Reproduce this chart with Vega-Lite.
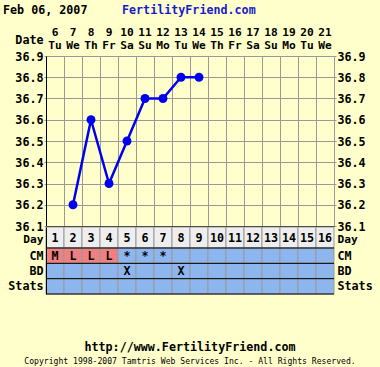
{
  "$schema": "https://vega.github.io/schema/vega-lite/v6.json",
  "width": 288,
  "height": 170,
  "autosize": {"type": "none"},
  "padding": {"left": 46, "right": 46, "top": 56, "bottom": 141},
  "background": "#FFFFCC",
  "config": {
    "view": {"stroke": null, "fill": "#FFFFCC"},
    "font": "DejaVu Sans Mono",
    "axis": {"labelFont": "DejaVu Sans Mono", "labelFontWeight": "bold", "labelFontSize": 11.7, "labelColor": "#000000"},
    "text": {"font": "DejaVu Sans Mono", "fontWeight": "bold", "fontSize": 11.7, "color": "#000000"}
  },
  "datasets": {
    "days": [
      {"day": 1, "date": "6", "wd": "Tu", "temp": null, "CM": "M", "BD": "", "Stats": ""},
      {"day": 2, "date": "7", "wd": "We", "temp": 36.2, "CM": "L", "BD": "", "Stats": ""},
      {"day": 3, "date": "8", "wd": "Th", "temp": 36.6, "CM": "L", "BD": "", "Stats": ""},
      {"day": 4, "date": "9", "wd": "Fr", "temp": 36.3, "CM": "L", "BD": "", "Stats": ""},
      {"day": 5, "date": "10", "wd": "Sa", "temp": 36.5, "CM": "*", "BD": "X", "Stats": ""},
      {"day": 6, "date": "11", "wd": "Su", "temp": 36.7, "CM": "*", "BD": "", "Stats": ""},
      {"day": 7, "date": "12", "wd": "Mo", "temp": 36.7, "CM": "*", "BD": "", "Stats": ""},
      {"day": 8, "date": "13", "wd": "Tu", "temp": 36.8, "CM": "", "BD": "X", "Stats": ""},
      {"day": 9, "date": "14", "wd": "We", "temp": 36.8, "CM": "", "BD": "", "Stats": ""},
      {"day": 10, "date": "15", "wd": "Th", "temp": null, "CM": "", "BD": "", "Stats": ""},
      {"day": 11, "date": "16", "wd": "Fr", "temp": null, "CM": "", "BD": "", "Stats": ""},
      {"day": 12, "date": "17", "wd": "Sa", "temp": null, "CM": "", "BD": "", "Stats": ""},
      {"day": 13, "date": "18", "wd": "Su", "temp": null, "CM": "", "BD": "", "Stats": ""},
      {"day": 14, "date": "19", "wd": "Mo", "temp": null, "CM": "", "BD": "", "Stats": ""},
      {"day": 15, "date": "20", "wd": "Tu", "temp": null, "CM": "", "BD": "", "Stats": ""},
      {"day": 16, "date": "21", "wd": "We", "temp": null, "CM": "", "BD": "", "Stats": ""}
    ]
  },
  "resolve": {"scale": {"x": "independent", "y": "independent"}, "axis": {"x": "independent", "y": "independent"}},
  "layer": [
    {
      "data": {"name": "days"},
      "mark": {"type": "line", "color": "#0000F0", "strokeWidth": 2.5},
      "encoding": {
        "x": {"field": "day", "type": "ordinal", "scale": {"type": "band", "domain": [1,2,3,4,5,6,7,8,9,10,11,12,13,14,15,16], "paddingInner": 0, "paddingOuter": 0},
              "axis": {"orient": "bottom", "grid": true, "gridColor": "#999999", "gridOpacity": 1, "tickBand": "extent", "labels": false, "ticks": false, "domain": true, "domainColor": "#000000", "title": null}},
        "y": {"field": "temp", "type": "quantitative", "scale": {"domain": [36.1, 36.9], "zero": false, "nice": false},
              "axis": {"orient": "left", "values": [36.1,36.2,36.3,36.4,36.5,36.6,36.7,36.8,36.9], "format": ".1f", "grid": true, "gridColor": "#999999", "gridOpacity": 1, "tickSize": 2, "tickColor": "#999999", "labelPadding": 1, "domain": true, "domainColor": "#000000", "title": null}}
      }
    },
    {
      "data": {"name": "days"},
      "mark": {"type": "point", "filled": true, "opacity": 1, "size": 80, "color": "#0000F0"},
      "encoding": {
        "x": {"field": "day", "type": "ordinal", "scale": {"type": "band", "domain": [1,2,3,4,5,6,7,8,9,10,11,12,13,14,15,16], "paddingInner": 0, "paddingOuter": 0}, "axis": null},
        "y": {"field": "temp", "type": "quantitative", "scale": {"domain": [36.1, 36.9], "zero": false, "nice": false},
              "axis": {"orient": "right", "values": [36.1,36.2,36.3,36.4,36.5,36.6,36.7,36.8,36.9], "format": ".1f", "grid": false, "tickSize": 2, "tickColor": "#999999", "labelPadding": 1, "domain": false, "title": null}}
      }
    },
    {
      "data": {"name": "days"},
      "mark": {"type": "text", "dy": -6.5, "fontSize": 11.2},
      "encoding": {
        "x": {"field": "day", "type": "ordinal", "scale": {"type": "band", "domain": [1,2,3,4,5,6,7,8,9,10,11,12,13,14,15,16], "paddingInner": 0, "paddingOuter": 0}, "axis": null},
        "y": {"datum": "Date", "type": "nominal", "scale": {"type": "band", "domain": ["Date"], "range": [-28.5, -4.5], "paddingInner": 0, "paddingOuter": 0},
              "axis": {"orient": "left", "domain": false, "ticks": false, "labelPadding": 3, "title": null}},
        "text": {"field": "date"}
      }
    },
    {
      "data": {"name": "days"},
      "mark": {"type": "text", "dy": 6.5, "fontSize": 11.2},
      "encoding": {
        "x": {"field": "day", "type": "ordinal", "scale": {"type": "band", "domain": [1,2,3,4,5,6,7,8,9,10,11,12,13,14,15,16], "paddingInner": 0, "paddingOuter": 0}, "axis": null},
        "y": {"datum": "Date", "type": "nominal", "scale": {"type": "band", "domain": ["Date"], "range": [-28.5, -4.5], "paddingInner": 0, "paddingOuter": 0}, "axis": null},
        "text": {"field": "wd"}
      }
    },
    {
      "data": {"name": "days"},
      "mark": {"type": "rect", "fill": "#EEEEEE", "stroke": "#999999", "strokeWidth": 1},
      "encoding": {
        "x": {"field": "day", "type": "ordinal", "scale": {"type": "band", "domain": [1,2,3,4,5,6,7,8,9,10,11,12,13,14,15,16], "paddingInner": 0, "paddingOuter": 0}, "axis": null},
        "y": {"datum": "Day", "type": "nominal", "scale": {"type": "band", "domain": ["Day"], "range": [171, 192], "paddingInner": 0, "paddingOuter": 0},
              "axis": {"orient": "left", "domain": true, "domainColor": "#000000", "ticks": false, "labelPadding": 3, "labelOffset": 2, "labelFontSize": 11.2, "title": null}}
      }
    },
    {
      "data": {"name": "days"},
      "mark": {"type": "text"},
      "encoding": {
        "x": {"field": "day", "type": "ordinal", "scale": {"type": "band", "domain": [1,2,3,4,5,6,7,8,9,10,11,12,13,14,15,16], "paddingInner": 0, "paddingOuter": 0}, "axis": null},
        "y": {"datum": "Day", "type": "nominal", "scale": {"type": "band", "domain": ["Day"], "range": [171, 192], "paddingInner": 0, "paddingOuter": 0},
              "axis": {"orient": "right", "domain": false, "ticks": false, "labelPadding": 3, "labelOffset": 2, "labelFontSize": 11.2, "title": null}},
        "text": {"field": "day"}
      }
    },
    {
      "data": {"name": "days"},
      "transform": [{"fold": ["CM", "BD", "Stats"], "as": ["row", "val"]}],
      "mark": {"type": "rect", "stroke": "#999999", "strokeWidth": 1},
      "encoding": {
        "x": {"field": "day", "type": "ordinal", "scale": {"type": "band", "domain": [1,2,3,4,5,6,7,8,9,10,11,12,13,14,15,16], "paddingInner": 0, "paddingOuter": 0}, "axis": null},
        "y": {"field": "row", "type": "nominal", "scale": {"type": "band", "domain": ["CM", "BD", "Stats"], "range": [192, 238], "paddingInner": 0, "paddingOuter": 0},
              "axis": {"orient": "left", "domain": true, "domainColor": "#000000", "ticks": false, "labelPadding": 3, "title": null}},
        "fill": {"condition": {"test": "datum.row === 'CM' && (datum.val === 'M' || datum.val === 'L')", "value": "#F08080"}, "value": "#8DB6EE"}
      }
    },
    {
      "data": {"name": "days"},
      "transform": [{"fold": ["CM", "BD", "Stats"], "as": ["row", "val"]}],
      "mark": {"type": "text"},
      "encoding": {
        "x": {"field": "day", "type": "ordinal", "scale": {"type": "band", "domain": [1,2,3,4,5,6,7,8,9,10,11,12,13,14,15,16], "paddingInner": 0, "paddingOuter": 0}, "axis": null},
        "y": {"field": "row", "type": "nominal", "scale": {"type": "band", "domain": ["CM", "BD", "Stats"], "range": [192, 238], "paddingInner": 0, "paddingOuter": 0},
              "axis": {"orient": "right", "domain": false, "ticks": false, "labelPadding": 3, "title": null}},
        "text": {"field": "val"}
      }
    },
    {
      "data": {"values": [{"row": "CM"}, {"row": "BD"}, {"row": "Stats"}]},
      "mark": {"type": "rule", "color": "#000000", "strokeWidth": 1},
      "encoding": {
        "y": {"field": "row", "type": "nominal", "bandPosition": 0, "scale": {"type": "band", "domain": ["CM", "BD", "Stats"], "range": [192, 238], "paddingInner": 0, "paddingOuter": 0}, "axis": null}
      }
    },
    {
      "data": {"values": [{"row": "Stats"}]},
      "mark": {"type": "rule", "color": "#000000", "strokeWidth": 1},
      "encoding": {
        "y": {"field": "row", "type": "nominal", "bandPosition": 1, "scale": {"type": "band", "domain": ["CM", "BD", "Stats"], "range": [192, 238], "paddingInner": 0, "paddingOuter": 0}, "axis": null}
      }
    },
    {
      "data": {"values": [{"part": "Feb 06, 2007"}, {"part": "FertilityFriend.com"}]},
      "mark": {"type": "text", "align": "left"},
      "encoding": {
        "x": {"field": "part", "type": "nominal", "scale": {"type": "point", "domain": ["Feb 06, 2007", "FertilityFriend.com"], "range": [-43, 76], "padding": 0}, "axis": null},
        "y": {"datum": "title", "type": "nominal", "scale": {"type": "band", "domain": ["title"], "range": [-52, -40], "paddingInner": 0, "paddingOuter": 0}, "axis": null},
        "text": {"field": "part"},
        "color": {"condition": {"test": "datum.part === 'FertilityFriend.com'", "value": "#1A1ACC"}, "value": "#000000"}
      }
    },
    {
      "data": {"values": [{"line": "http://www.FertilityFriend.com"}]},
      "mark": {"type": "text", "align": "center"},
      "encoding": {
        "y": {"datum": "url", "type": "nominal", "scale": {"type": "band", "domain": ["url"], "range": [285, 297], "paddingInner": 0, "paddingOuter": 0}, "axis": null},
        "text": {"field": "line"}
      }
    },
    {
      "data": {"values": [{"line": "Copyright 1998-2007 Tamtris Web Services Inc. - All Rights Reserved."}]},
      "mark": {"type": "text", "align": "center", "fontWeight": "normal", "fontSize": 8.1},
      "encoding": {
        "y": {"datum": "copy", "type": "nominal", "scale": {"type": "band", "domain": ["copy"], "range": [300, 312], "paddingInner": 0, "paddingOuter": 0}, "axis": null},
        "text": {"field": "line"}
      }
    }
  ]
}
